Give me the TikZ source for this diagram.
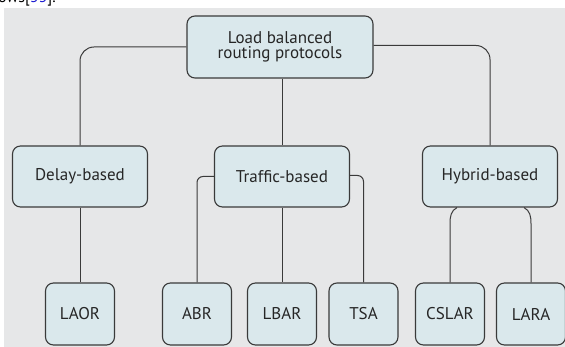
\documentclass[tikz,border=0pt]{standalone}
\usepackage{fontspec}
\setmainfont{PT Sans}
\usetikzlibrary{calc}
\definecolor{bgc}{HTML}{E6E7E8}
\definecolor{boxc}{HTML}{DAE8EC}
\definecolor{linec}{HTML}{3A3A3A}
\definecolor{refblue}{HTML}{1A1AD0}
\tikzset{
  box/.style={draw=linec, line width=1.1pt, fill=boxc, rounded corners=8pt, align=center, text=black!85, font=\fontsize{17}{15.7}\selectfont, inner sep=2pt},
  bigbox/.style={box, minimum width=186pt, minimum height=62pt},
  midbox/.style={box, minimum width=135pt, minimum height=61pt},
  leafbox/.style={box, minimum width=69pt, minimum height=62pt},
  conn/.style={draw=linec, line width=1pt}
}
\begin{document}
\begin{tikzpicture}[x=1pt,y=-1pt]
\useasboundingbox (0,0) rectangle (565,347);
\clip (0,0) rectangle (565,347);
\fill[bgc] (4,8) rectangle (565,347);
\node[anchor=base west, font=\fontsize{16}{16}\selectfont, inner sep=0pt] (cite) at (-2,3) {ows[\textcolor{refblue}{33}].};
\node[bigbox] (top) at (280,47) {Load balanced\\routing protocols};
\node[midbox] (delay) at (80,176.5) {Delay-based};
\node[midbox] (traffic) at (282,176.5) {Traffic-based};
\node[midbox] (hybrid) at (490,176.5) {Hybrid-based};
\node[leafbox] (laor) at (80,314) {LAOR};
\node[leafbox] (abr) at (197,314) {ABR};
\node[leafbox] (lbar) at (282,314) {LBAR};
\node[leafbox] (tsa) at (363.5,314) {TSA};
\node[leafbox] (cslar) at (450,314) {CSLAR};
\node[leafbox] (lara) at (531,314) {LARA};
\draw[conn, rounded corners=14pt] (top.west) -| (delay.north);
\draw[conn, rounded corners=14pt] ([yshift=1.5pt]top.east) -| (hybrid.north);
\draw[conn] (traffic.north |- top.south) -- (traffic.north);
\draw[conn] (delay.south) -- (laor.north);
\draw[conn, rounded corners=6pt] (traffic.west) -| (abr.north);
\draw[conn, rounded corners=6pt] ([yshift=1pt]traffic.east) -| (tsa.north);
\draw[conn] (traffic.south) -- (lbar.north);
\draw[conn] ($(hybrid.south)+(-33,0)$) .. controls ($(hybrid.south)+(-39,3)$) and ($(hybrid.south)+(-40,9)$) .. ($(hybrid.south)+(-40,16)$) -- (cslar.north);
\draw[conn] ($(hybrid.south)+(34,0)$) .. controls ($(hybrid.south)+(40,3)$) and ($(hybrid.south)+(41,9)$) .. ($(hybrid.south)+(41,16)$) -- (lara.north);
\end{tikzpicture}
\end{document}
